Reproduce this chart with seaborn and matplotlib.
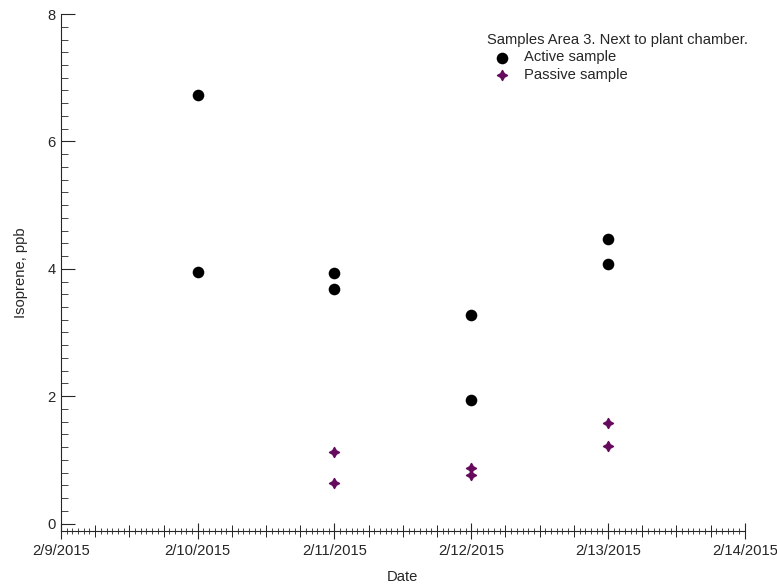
import numpy as np
import pandas as pd
import matplotlib
matplotlib.use('Agg')
from matplotlib import pyplot as plt
import matplotlib.dates as mdates
import seaborn as sns

active_dates = ['2015-02-10', '2015-02-10', '2015-02-11', '2015-02-11',
                '2015-02-12', '2015-02-12', '2015-02-13', '2015-02-13']
active_values = [6.73, 3.95, 3.93, 3.69, 3.27, 1.94, 4.47, 4.07]

passive_dates = ['2015-02-11', '2015-02-11', '2015-02-12', '2015-02-12',
                 '2015-02-13', '2015-02-13']
passive_values = [1.13, 0.64, 0.87, 0.76, 1.58, 1.21]

x_ticks = ['2015-02-09', '2015-02-10', '2015-02-11', '2015-02-12', '2015-02-13', '2015-02-14']
y_ticks = [0, 2, 4, 6, 8]

sns.set_style('ticks')
plt.rcParams['font.family'] = ['Liberation Sans', 'DejaVu Sans']
fs = 10.6

df_active = pd.DataFrame({'date': pd.to_datetime(active_dates), 'value': active_values})
df_passive = pd.DataFrame({'date': pd.to_datetime(passive_dates), 'value': passive_values})

fig = plt.figure(figsize=(7.77, 5.85), dpi=100)
ax = fig.add_axes([0.0785, 0.092, 0.88, 0.884])

purple = '#660a5e'
sns.scatterplot(x='date', y='value', data=df_active, ax=ax, color='black', marker='o',
                s=70, edgecolor='black', linewidth=0, label='Active sample', zorder=3)
sns.scatterplot(x='date', y='value', data=df_passive, ax=ax, color=purple, marker=(4, 1, 0),
                s=48, edgecolor=purple, linewidth=1.2, label='Passive sample', zorder=3)

ax.set_xlim(pd.Timestamp(x_ticks[0]), pd.Timestamp(x_ticks[-1]))
ax.set_ylim(-0.12, 8)
ax.set_xticks(pd.to_datetime(x_ticks))
ax.xaxis.set_major_formatter(mdates.DateFormatter('%-m/%-d/%Y'))
ax.xaxis.set_minor_locator(mdates.HourLocator())
ax.set_yticks(y_ticks)
ax.yaxis.set_minor_locator(matplotlib.ticker.MultipleLocator(0.2))

ax.tick_params(axis='x', which='major', direction='inout', length=12, width=0.8, labelsize=fs, pad=3)
ax.tick_params(axis='x', which='minor', direction='inout', length=4, width=0.6)
ax.tick_params(axis='y', which='major', direction='in', length=10, width=0.8, labelsize=fs, pad=4)
ax.tick_params(axis='y', which='minor', direction='in', length=5, width=0.6)

# six-hour ticks, a bit longer than the hourly ones
ax2 = ax.twiny()
ax2.set_xlim(ax.get_xlim())
ax2.xaxis.set_ticks_position('bottom')
ax2.set_xticks(mdates.date2num(pd.date_range(x_ticks[0], x_ticks[-1], freq='6h')))
ax2.tick_params(axis='x', direction='inout', length=8, width=0.7, labelbottom=False, labeltop=False)
for s in ax2.spines.values():
    s.set_visible(False)

sns.despine(ax=ax)
ax.spines['left'].set_linewidth(0.8)
ax.spines['bottom'].set_linewidth(0.8)

ax.set_xlabel('Date', fontsize=fs, labelpad=9)
ax.set_ylabel('Isoprene, ppb', fontsize=fs, labelpad=14)

ax.legend(title='Samples Area 3. Next to plant chamber.', loc='upper left',
          bbox_to_anchor=(0.612, 0.978), frameon=False, fontsize=fs, title_fontsize=fs,
          alignment='left', handletextpad=0.5, borderpad=0, labelspacing=0.25, markerscale=1.0)

plt.savefig('out.png', dpi=100)
